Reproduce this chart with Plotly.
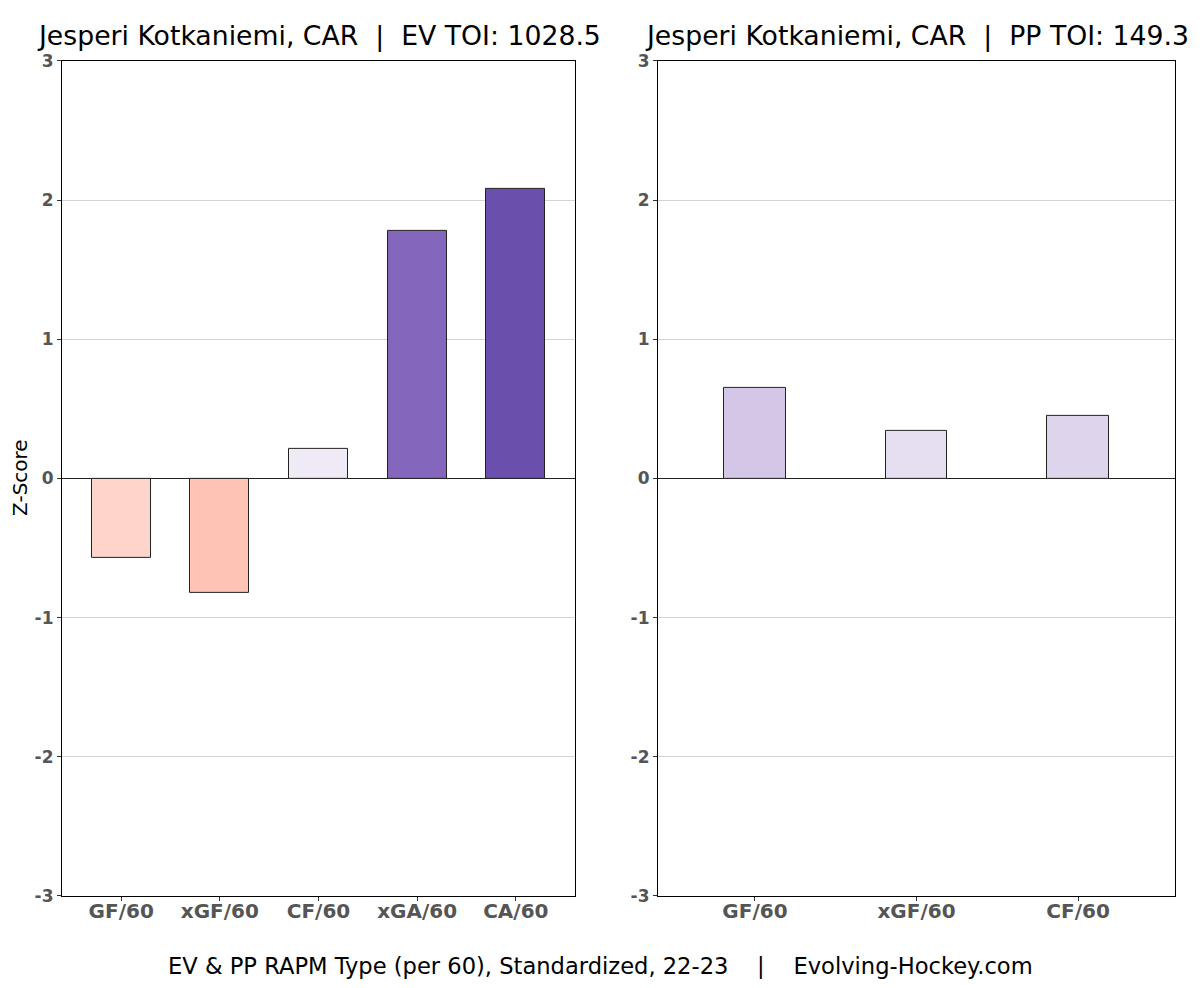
import plotly.graph_objects as go

ev_categories = ["GF/60", "xGF/60", "CF/60", "xGA/60", "CA/60"]
ev_values = [-0.57, -0.82, 0.21, 1.78, 2.08]
ev_colors = ["#FFD5CB", "#FFC4B5", "#F0EAF6", "#8466BC", "#6B4FAD"]

pp_categories = ["GF/60", "xGF/60", "CF/60"]
pp_values = [0.65, 0.34, 0.45]
pp_colors = ["#D4C6E6", "#E6DEF1", "#DED4EC"]

y_ticks = [-3, -2, -1, 0, 1, 2, 3]

ev_title = "Jesperi Kotkaniemi, CAR  |  EV TOI: 1028.5"
pp_title = "Jesperi Kotkaniemi, CAR  |  PP TOI: 149.3"
caption = "EV & PP RAPM Type (per 60), Standardized, 22-23    |    Evolving-Hockey.com"

# page has an 8px body margin; size figure so the page is exactly 1200x988
OFF = 8
W, H = 1200 - 2 * OFF, 988 - 2 * OFF
FONT = "DejaVu Sans"

# observed vertical mapping of the captured page: y_shown = A + B * y_page
A, B = 11.4, 0.977


def px(x):
    return (x - OFF) / W


def py(y):
    y_page = (y - A) / B
    return 1 - (y_page - OFF) / H


fig = go.Figure()
fig.add_trace(go.Bar(x=list(range(len(ev_categories))), y=ev_values, width=0.6,
                     marker=dict(color=ev_colors, line=dict(color="#222222", width=1)),
                     xaxis="x", yaxis="y", showlegend=False, hoverinfo="skip"))
fig.add_trace(go.Bar(x=list(range(len(pp_categories))), y=pp_values, width=0.38,
                     marker=dict(color=pp_colors, line=dict(color="#222222", width=1)),
                     xaxis="x2", yaxis="y2", showlegend=False, hoverinfo="skip"))

XTICKFONT = dict(family=FONT, size=20, color="#555555", weight="bold")
YTICKFONT = dict(family=FONT, size=17, color="#555555", weight="bold")


def xax(domain, cats, anchor):
    return dict(domain=domain, anchor=anchor, range=[-0.6, len(cats) - 0.4],
                tickmode="array", tickvals=list(range(len(cats))), ticktext=cats,
                showgrid=False, zeroline=False, showline=True, linecolor="black",
                linewidth=1.2, mirror=True, ticks="outside", ticklen=4,
                tickcolor="#333333", tickfont=XTICKFONT, ticklabelstandoff=-7)


def yax(domain, anchor):
    return dict(domain=domain, anchor=anchor, range=[-3, 3], tickmode="array",
                tickvals=y_ticks, ticktext=[str(t) for t in y_ticks],
                showgrid=True, gridcolor="#D3D3D3", gridwidth=1,
                zeroline=True, zerolinecolor="#222222", zerolinewidth=1.2,
                showline=True, linecolor="black", linewidth=1.2, mirror=True,
                ticks="outside", ticklen=4, tickcolor="#333333",
                tickfont=YTICKFONT)


ydom = [py(895), py(62)]
fig.update_layout(
    width=W, height=H, margin=dict(l=0, r=0, t=0, b=0),
    paper_bgcolor="white", plot_bgcolor="white",
    font=dict(family=FONT, color="black"),
    xaxis=xax([px(62), px(575)], ev_categories, "y"),
    yaxis=yax(ydom, "x"),
    xaxis2=xax([px(658), px(1175)], pp_categories, "y2"),
    yaxis2=yax(ydom, "x2"),
    bargap=0,
)

fig.add_annotation(text=ev_title, x=px(318.5), y=py(37), xref="paper", yref="paper",
                   showarrow=False, xanchor="center", yanchor="middle",
                   font=dict(family=FONT, size=26.7, color="black"))
fig.add_annotation(text=pp_title, x=px(917), y=py(37), xref="paper", yref="paper",
                   showarrow=False, xanchor="center", yanchor="middle",
                   font=dict(family=FONT, size=26.7, color="black"))
fig.add_annotation(text="Z-Score", x=px(20), y=py(478), xref="paper", yref="paper",
                   showarrow=False, textangle=-90, xanchor="center", yanchor="middle",
                   font=dict(family=FONT, size=20, color="black"))
fig.add_annotation(text=caption, x=px(600), y=py(965), xref="paper", yref="paper",
                   showarrow=False, xanchor="center", yanchor="middle",
                   font=dict(family=FONT, size=22.6, color="black"))

fig.write_html("out.html")
